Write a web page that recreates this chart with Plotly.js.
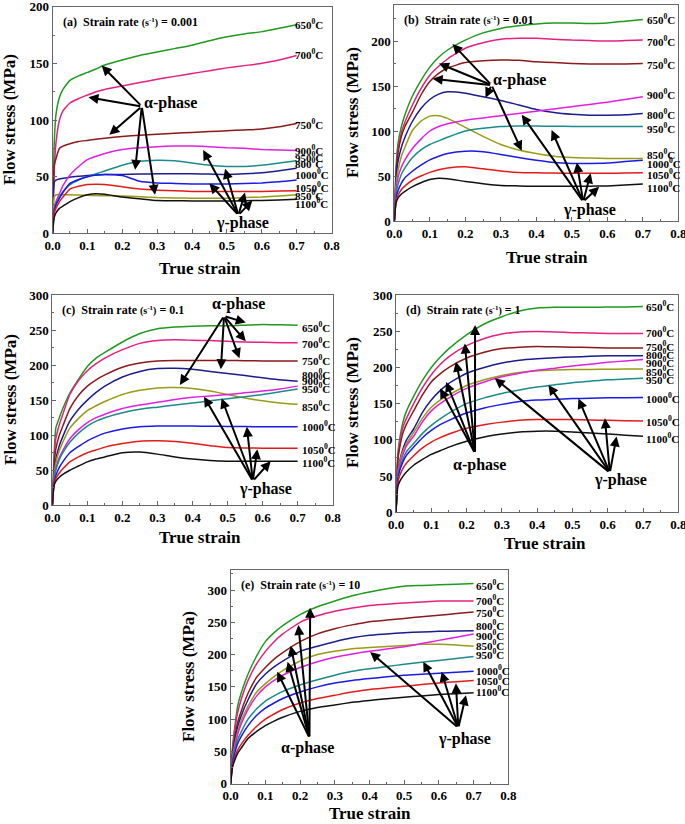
<!DOCTYPE html>
<html><head><meta charset="utf-8">
<script src="https://cdn.plot.ly/plotly-3.0.1.min.js"></script>
<style>html,body{margin:0;padding:0;background:#fff}#chart{width:685px;height:824px}</style>
</head><body><div id="chart"></div>
<script>
// ---------- DATA ----------
const strain = [0, 0.005, 0.01, 0.02, 0.03, 0.05, 0.075, 0.1, 0.125, 0.15, 0.2, 0.25, 0.3, 0.35, 0.4, 0.45, 0.5, 0.55, 0.6, 0.65, 0.7];
const temps = [650, 700, 750, 800, 850, 900, 950, 1000, 1050, 1100];
const colors = ['#1f9a1f', '#e5207f', '#8b1a1a', '#1c1c8c', '#9a9a16', '#e020e0', '#1a8b8b', '#1a1ae6', '#e31a1a', '#111111'];

// (a) strain rate 0.001
const stressA = [
  [0, 80, 105, 120, 127, 135, 139, 142, 145, 148.5, 153, 157, 160, 163, 166, 170, 173.5, 176, 178, 181, 184],
  [0, 55, 80, 100, 108, 115, 119, 122, 125, 127, 130, 133, 136, 138.5, 141, 143.5, 146, 148, 150, 153, 157],
  [0, 60, 66, 75, 77, 79, 81, 82, 83, 84, 85.5, 86.5, 87.5, 88.3, 89, 89.8, 90.5, 91.2, 92, 94, 97],
  [0, 45, 47, 48, 48.5, 49.5, 50.3, 51, 51.5, 51.8, 52, 52.3, 52.5, 52.5, 52.5, 52.3, 52, 52.5, 53.5, 55.3, 57.5],
  [0, 32, 34, 34, 34, 34, 33.8, 33.5, 33.3, 33.2, 33, 32.3, 31.5, 31.2, 31, 31, 31, 31.5, 32, 33, 34],
  [0, 22, 28, 35, 42, 51.5, 59, 65, 68, 70.5, 74, 75.5, 76.5, 77, 77, 76.5, 75.5, 75, 74, 73.5, 73],
  [0, 20, 26, 32, 37, 43, 47, 50, 52.5, 55, 60, 63.5, 64.5, 64, 62, 60, 59, 59, 60, 62, 64],
  [0, 20, 25, 31, 36, 44, 47.5, 50, 51.5, 52, 51, 46, 44.5, 44, 43.5, 43.5, 43.5, 44, 44.5, 45.5, 47],
  [0, 18, 22, 28, 32, 39, 41.5, 43, 43.3, 43, 41, 39, 38, 37.5, 37, 37, 37, 37, 37, 37.3, 37.5],
  [0, 14, 18, 22, 24, 28, 31.5, 34, 35, 34.5, 32, 30.5, 29, 28.8, 28.5, 28.5, 28.5, 28.7, 29, 29.5, 30]
];
// (b) strain rate 0.01
const stressB = [
  [0, 60, 85, 105, 118, 138, 156, 171, 182, 190, 201, 209, 214, 217, 219, 220, 220, 219.5, 220, 222, 224],
  [0, 55, 78, 98, 110, 128, 147, 162, 172, 180, 192, 198, 202, 203, 203, 202, 201, 200.5, 200, 200.5, 201],
  [0, 52, 74, 94, 105, 120, 140, 155, 164, 170, 176, 178, 179, 178.5, 177, 176, 175, 174.5, 174.5, 174.5, 175],
  [0, 45, 65, 82, 93, 110, 125, 135, 141, 143.5, 142, 138, 134, 129, 124, 120.5, 118.5, 117.5, 117.5, 118, 119.5],
  [0, 40, 55, 72, 82, 100, 111, 116.5, 117, 114, 104, 94, 85, 79, 75, 72, 70.5, 70, 69.5, 69.5, 69.5],
  [0, 35, 48, 60, 68, 80, 91, 100, 105, 108, 112, 114.5, 117, 119.5, 122, 124.5, 127, 129.5, 132, 135, 138],
  [0, 30, 40, 52, 59, 70, 79, 85, 89, 93, 100, 103, 105, 105.5, 105.5, 105.3, 105, 105, 105, 105, 105],
  [0, 25, 33, 42, 48, 55, 62, 68, 72, 75, 77.5, 77, 74, 70.5, 67.5, 65, 64, 64, 64.5, 66, 67.5],
  [0, 22, 28, 35, 39, 45, 50, 54, 57, 59, 60.3, 58, 55.5, 54, 53.5, 53.2, 53, 53, 53, 53.2, 53.5],
  [0, 20, 25, 30, 33, 38, 42.5, 46, 47.5, 47, 44, 41.5, 39.5, 39, 38.5, 38.5, 38.5, 38.7, 39, 40, 41]
];
// (c) strain rate 0.1
const stressC = [
  [0, 70, 110, 125, 138, 160, 180, 198, 210, 218, 233, 245, 252, 254.5, 255.5, 256, 256, 257, 258, 257.5, 257],
  [0, 65, 95, 115, 130, 158, 178, 192, 202, 210, 222, 231, 235, 236, 235.5, 235, 234, 233, 232.5, 232, 232],
  [0, 55, 80, 100, 113, 138, 157, 170, 179, 186, 197, 203, 206, 206.5, 206.5, 206.5, 206.5, 206.3, 206, 206, 206],
  [0, 45, 65, 85, 98, 120, 137, 150, 161, 170, 183, 191, 195, 195.5, 194, 191, 188, 185, 182, 179, 177],
  [0, 42, 60, 78, 90, 110, 124, 135, 142, 148, 158, 164, 167.5, 168, 166.5, 163, 158, 153, 149, 146, 144],
  [0, 38, 52, 68, 78, 95, 108, 118, 125, 130, 138, 143, 147, 151, 154, 156, 158, 160.5, 163, 166, 170],
  [0, 36, 50, 65, 75, 90, 103, 113, 120, 125, 132, 137, 140, 143, 146, 149, 152, 155, 158, 162, 166],
  [0, 32, 42, 54, 62, 75, 84, 92, 98, 103, 109, 112, 113, 113, 113, 112.8, 112.5, 112.3, 112, 112, 112],
  [0, 30, 38, 46, 52, 62, 69, 75, 79, 83, 88, 91.5, 92, 91, 88.5, 85, 82.5, 81.8, 81.5, 81.5, 81.5],
  [0, 28, 34, 40, 44, 50, 56, 62, 66, 69, 75, 76, 73, 69, 66, 64, 63, 63, 63, 63, 63]
];
// (d) strain rate 1
const stressD = [
  [0, 80, 100, 125, 140, 160, 182, 200, 214, 226, 245, 260, 270, 278, 282, 283, 283, 283, 283.5, 283.5, 284],
  [0, 75, 95, 118, 130, 150, 172, 190, 204, 215, 230, 240, 246, 249, 249.5, 249, 248, 247.5, 247, 247, 247],
  [0, 70, 88, 110, 122, 140, 162, 180, 191, 200, 213, 221, 226, 228, 229, 228.5, 228, 227.5, 227, 227, 227],
  [0, 55, 70, 88, 100, 115, 138, 155, 168, 178, 192, 200, 206, 210, 212, 213.5, 214.5, 215.3, 216, 216, 216],
  [0, 55, 68, 85, 95, 110, 130, 145, 155, 162, 175, 183, 189, 193, 195.5, 196.5, 197, 197.3, 197.5, 197.8, 198],
  [0, 52, 65, 80, 92, 105, 125, 140, 150, 158, 171, 180, 187, 192, 196, 199, 202, 204.5, 207, 209, 211],
  [0, 48, 60, 74, 84, 95, 109, 120, 129, 137, 150, 158, 164, 169, 173, 176, 179, 181, 183, 184, 185],
  [0, 45, 57, 70, 79, 90, 103, 113, 121, 127, 137, 144, 149, 153, 155, 156, 157, 157.5, 158, 158.3, 158.5],
  [0, 40, 50, 61, 68, 78, 89, 97, 103, 108, 116, 121, 124.5, 127, 128, 128, 128, 127.5, 127, 126.5, 126],
  [0, 35, 42, 50, 56, 65, 73, 80, 85, 90, 98, 104, 108, 111, 112, 112, 111, 109.5, 108, 106.5, 105]
];
// (e) strain rate 10
const stressE = [
  [0, 55, 80, 120, 140, 170, 198, 220, 234, 245, 262, 274, 283, 291, 297, 302, 306, 307, 308, 309, 310],
  [0, 50, 75, 110, 130, 160, 186, 205, 220, 232, 250, 260, 267, 272, 276, 278, 280, 281.5, 283, 283, 283],
  [0, 45, 65, 95, 112, 140, 165, 180, 193, 203, 220, 232, 240, 246, 251, 253.5, 256, 258.5, 261, 263.5, 266],
  [0, 42, 60, 88, 105, 130, 155, 170, 181, 190, 205, 213, 220, 226, 230, 232, 234, 235, 236, 236.5, 237],
  [0, 40, 55, 80, 97, 120, 142, 155, 166, 175, 190, 200, 205, 209, 211, 212.5, 214, 216, 216, 215, 213],
  [0, 38, 52, 76, 92, 115, 136, 150, 160, 168, 180, 189, 196, 201, 205, 208.5, 212, 217, 222, 227, 232],
  [0, 35, 48, 68, 80, 100, 116, 128, 136, 143, 153, 161, 168, 174, 178, 181.5, 185, 188, 191, 194, 197],
  [0, 32, 44, 62, 73, 90, 106, 117, 125, 132, 142, 150, 156, 160, 163, 165.5, 168, 169.5, 171, 172.5, 174],
  [0, 28, 38, 52, 61, 75, 89, 100, 108, 115, 125, 132, 137, 142, 146, 148.5, 151, 153.5, 156, 158, 160],
  [0, 25, 34, 47, 55, 70, 81, 90, 97, 103, 112, 118, 122, 126, 129, 131.5, 134, 136, 138, 139.5, 141]
];

const rates = ['0.001', '0.01', '0.1', '1', '10'];
const panelLetters = ['a', 'b', 'c', 'd', 'e'];
// label y-positions (stress) for temperature labels, same order as temps
const labelYA = [185, 158, 96.5, 61.8, 33.8, 73.5, 67.6, 52, 40.6, 26.5];
const labelYB = [224.5, 200, 174.4, 118.5, 74.4, 140.7, 103.7, 64, 52, 38];
const labelYC = [255, 232, 207, 187, 141.7, 179, 168, 113.6, 81, 62];
const labelYD = [285, 249, 229.6, 218.6, 195.6, 208, 183.6, 157.4, 126.6, 102];
const labelYE = [307.7, 284.5, 266.4, 245.7, 214.8, 230, 200.8, 176, 160.6, 143.5];

// arrows: [tail], [heads]
const alphaA = [[0.256, 112], [[0.141, 148], [0.103, 120], [0.163, 87], [0.237, 56], [0.294, 34]]];
const gammaA = [[0.533, 16], [[0.432, 73.5], [0.495, 57], [0.45, 44], [0.552, 36], [0.573, 29]]];
const alphaB = [[0.274, 151], [[0.164, 196.7], [0.126, 175], [0.108, 158], [0.257, 137], [0.359, 78]]];
const gammaB = [[0.532, 21.5], [[0.359, 118], [0.443, 101], [0.514, 65], [0.553, 53], [0.577, 38]]];
const alphaC = [[0.49, 270], [[0.552, 260.6], [0.552, 234], [0.534, 209.7], [0.481, 194], [0.364, 171.7]]];
const gammaC = [[0.572, 34.7], [[0.433, 155], [0.483, 152.6], [0.555, 112], [0.585, 80], [0.623, 63]]];
const alphaD = [[0.224, 81.5], [[0.125, 171], [0.142, 180], [0.17, 208], [0.195, 233], [0.224, 258.6]]];
const gammaD = [[0.606, 54.8], [[0.28, 185], [0.432, 175.8], [0.517, 157], [0.592, 129.8], [0.625, 104.5]]];
const alphaE = [[0.227, 71], [[0.134, 173.5], [0.164, 189], [0.173, 213.7], [0.195, 245.7], [0.229, 272.6]]];
const gammaE = [[0.656, 86.7], [[0.402, 204], [0.555, 189], [0.608, 173.5], [0.649, 155.4], [0.678, 137]]];
// phase text positions [x, y]
const alphaText = [[0.337, 115], [0.354, 157], [0.531, 287], [0.236, 65], [0.221, 54.7]];
const gammaText = [[0.545, 9], [0.549, 12], [0.607, 23], [0.635, 44.6], [0.675, 70]];

// ---------- LAYOUT GEOMETRY (pixels) ----------
const W = 685, H = 824;
const boxes = [ // left, right, top, bottom, ymax
  [52.5, 331.5, 6.7, 233.3, 200],
  [394.3, 678.3, 5, 221, 240],
  [52.3, 332.7, 295, 505.3, 300],
  [396, 678.3, 295, 512.3, 300],
  [230.7, 508.3, 570, 783.7, 331]
];
const ytitlePos = [[10, 120], [352, 113], [10, 400], [352, 403], [188, 677]];
const xtitlePos = [[200, 268], [547, 257], [200, 537], [545, 543], [370, 813]];
const labelX = [0.69, 0.705, 0.707, 0.703, 0.701];

const stresses = [stressA, stressB, stressC, stressD, stressE];
const labelYs = [labelYA, labelYB, labelYC, labelYD, labelYE];
const alphas = [alphaA, alphaB, alphaC, alphaD, alphaE];
const gammas = [gammaA, gammaB, gammaC, gammaD, gammaE];

const FONT = 'Liberation Serif, Times New Roman, serif';
const traces = [];
const annotations = [];
const layout = {
  width: W, height: H, margin: {l: 0, r: 0, t: 0, b: 0},
  paper_bgcolor: '#fff', plot_bgcolor: '#fff', showlegend: false,
  font: {family: FONT, color: '#000'}
};

for (let p = 0; p < 5; p++) {
  const sfx = p === 0 ? '' : String(p + 1);
  const xa = 'x' + sfx, ya = 'y' + sfx;
  const b = boxes[p];
  const common = {
    showline: true, linecolor: '#666', linewidth: 1, mirror: true,
    ticks: 'inside', ticklen: 4, tickwidth: 1, tickcolor: '#666',
    showgrid: false, zeroline: false, ticklabeloverflow: 'allow',
    tickfont: {family: FONT, size: 13, color: '#000', weight: 'bold'}
  };
  layout['xaxis' + sfx] = Object.assign({}, common, {
    domain: [b[0] / W, b[1] / W], range: [0, 0.8], dtick: 0.1, tick0: 0, tickformat: '.1f',
    anchor: ya, minor: {ticks: 'inside', ticklen: 2, dtick: 0.05, tickcolor: '#666'}
  });
  layout['yaxis' + sfx] = Object.assign({}, common, {
    domain: [1 - b[3] / H, 1 - b[2] / H], range: [0, b[4]], dtick: 50, tick0: 0,
    anchor: xa, minor: {ticks: 'inside', ticklen: 2, dtick: 25, tickcolor: '#666'}
  });
  for (let i = 0; i < temps.length; i++) {
    traces.push({
      type: 'scatter', mode: 'lines', x: strain, y: stresses[p][i], xaxis: xa, yaxis: ya,
      line: {color: colors[i], width: 1.5, shape: 'spline', smoothing: 0.5},
      name: temps[i] + '°C', hoverinfo: 'skip'
    });
    annotations.push({
      xref: xa, yref: ya, x: labelX[p], y: labelYs[p][i], xanchor: 'left', yanchor: 'middle',
      text: '<b>' + temps[i] + '<sup>0</sup>C</b>', showarrow: false,
      font: {family: FONT, size: 11, color: '#000'}
    });
  }
  // panel title
  annotations.push({
    xref: 'paper', yref: 'paper', x: (b[0] + 8) / W, y: 1 - (b[2] + 6) / H,
    xanchor: 'left', yanchor: 'top', showarrow: false,
    text: '<b>(' + panelLetters[p] + ')  Strain rate <span style="font-size:10px">(s<sup>-1</sup>)</span> = ' + rates[p] + '</b>',
    font: {family: FONT, size: 12, color: '#000'}
  });
  // axis titles
  annotations.push({
    xref: 'paper', yref: 'paper', x: ytitlePos[p][0] / W, y: 1 - ytitlePos[p][1] / H,
    xanchor: 'center', yanchor: 'middle', textangle: -90, showarrow: false,
    text: '<b>Flow stress (MPa)</b>', font: {family: FONT, size: 17, color: '#000'}
  });
  annotations.push({
    xref: 'paper', yref: 'paper', x: xtitlePos[p][0] / W, y: 1 - xtitlePos[p][1] / H,
    xanchor: 'center', yanchor: 'middle', showarrow: false,
    text: '<b>True strain</b>', font: {family: FONT, size: 17, color: '#000'}
  });
  // arrows
  [alphas[p], gammas[p]].forEach(function (grp) {
    const tail = grp[0];
    grp[1].forEach(function (h) {
      annotations.push({
        xref: xa, yref: ya, axref: xa, ayref: ya, x: h[0], y: h[1], ax: tail[0], ay: tail[1],
        text: '', showarrow: true, arrowhead: 2, arrowsize: 1, arrowwidth: 2, arrowcolor: '#000'
      });
    });
  });
  annotations.push({
    xref: xa, yref: ya, x: alphaText[p][0], y: alphaText[p][1], xanchor: 'center', yanchor: 'middle',
    showarrow: false, text: '<b>α-phase</b>', font: {family: FONT, size: 16, color: '#000'}
  });
  annotations.push({
    xref: xa, yref: ya, x: gammaText[p][0], y: gammaText[p][1], xanchor: 'center', yanchor: 'middle',
    showarrow: false, text: '<b>γ-phase</b>', font: {family: FONT, size: 16, color: '#000'}
  });
}
layout.annotations = annotations;
Plotly.newPlot('chart', traces, layout, {staticPlot: true, displayModeBar: false});
</script>
</body></html>
